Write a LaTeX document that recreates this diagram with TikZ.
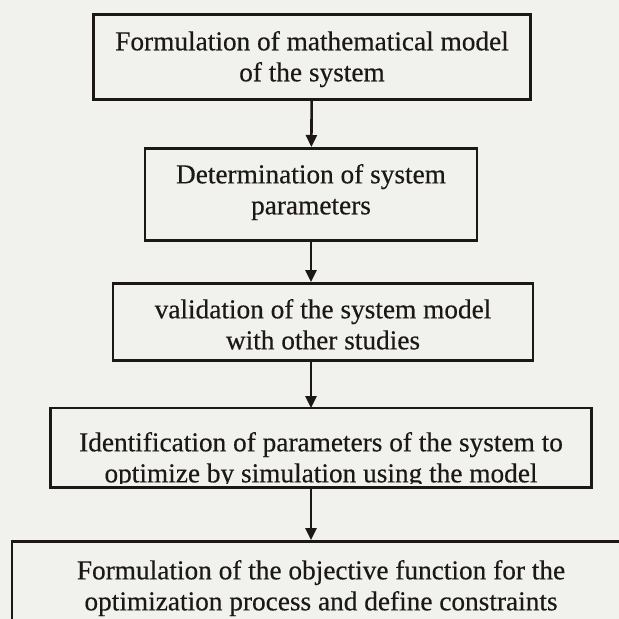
\documentclass[tikz,border=0pt]{standalone}
\usepackage{fontspec}
\setmainfont{Liberation Serif}
\newfontfamily\scanfont{Liberation Serif}[FakeBold=0.4]
\usetikzlibrary{arrows.meta}
\definecolor{paper}{RGB}{241,241,238}
\definecolor{ink}{RGB}{28,24,22}

\begin{document}
\begin{tikzpicture}[x=1pt,y=-1pt,
  stage/.style={draw=ink, line width=2.6pt, align=center, inner sep=0pt,
    anchor=north, text=ink, font=\scanfont\fontsize{27.3}{31}\selectfont},
  flow/.style={draw=ink, line width=2.6pt, -{Triangle[length=12pt,width=11pt]}}]
  % Page
  \useasboundingbox (0,0) rectangle (619,619);
  \fill[paper] (0,0) rectangle (619,619);
  \clip (0,0) rectangle (619,619);

  % Stages (text height/depth: top and bottom edge from the last baseline)
  \node[stage, minimum width=437pt, text height=67pt, text depth=18pt] (model) at (312,13)
    {Formulation of mathematical model\\of the system};
  \node[stage, minimum width=332pt, text height=66pt, text depth=26pt] (params) at (311,147)
    {Determination of system\\parameters};
  \node[stage, minimum width=420pt, text height=66pt, text depth=11pt] (valid) at (323,282)
    {validation of the system model\\with other studies};
  % descenders of the last line are cut off by the frame
  \begin{scope}
    \clip (50.7,406.7) rectangle (591.3,483.2);
    \node[stage, draw=none, minimum width=538pt, text height=73pt, text depth=4pt] (ident) at (321,408)
      {Identification of parameters of the system to\\optimize by simulation using the model};
  \end{scope}
  \draw[ink, line width=2.6pt] (ident.south west) rectangle (ident.north east);
  \node[stage, minimum width=618pt, text height=69pt, text depth=25pt] (objective) at (321,540)
    {Formulation of the objective function for the\\optimization process and define constraints};

  % Arrows
  \draw[flow] (model) -- (params);
  \draw[flow] (params) -- (params |- valid.north);
  \draw[flow] (params |- valid.south) -- (params |- ident.north);
  \draw[flow] (params |- ident.south) -- (params |- objective.north);
\end{tikzpicture}
\end{document}
